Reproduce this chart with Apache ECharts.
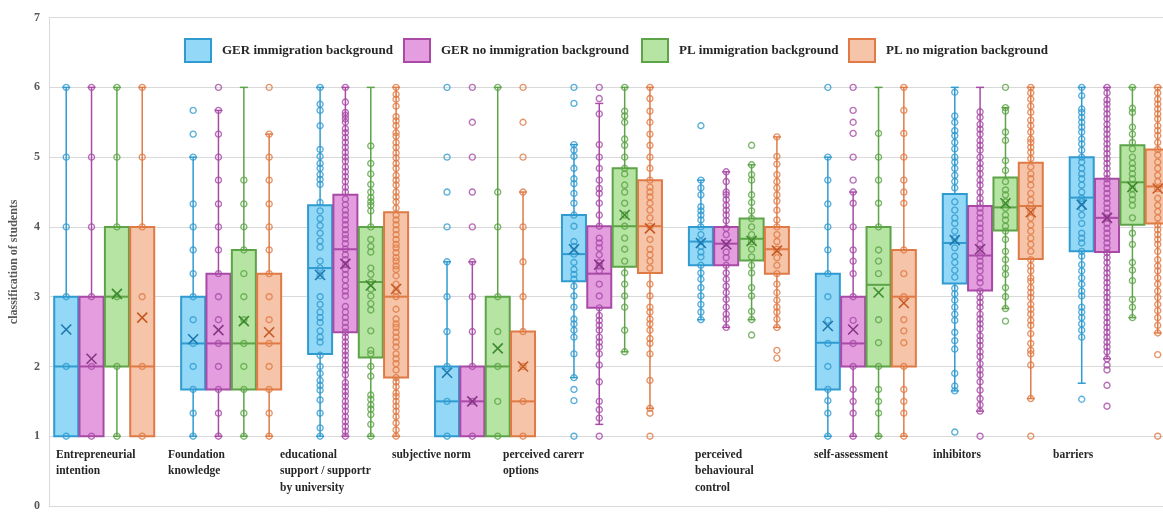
<!DOCTYPE html>
<html>
<head>
<meta charset="utf-8">
<script src="https://cdn.jsdelivr.net/npm/echarts@6/dist/echarts.min.js"></script>
<style>
  html, body { margin: 0; padding: 0; background: #fff; }
  #chart { width: 1163px; height: 512px; }
</style>
</head>
<body>
<div id="chart"></div>
<script>
// Box plots per construct, 4 student groups (GER/PL x migration background)

const CATEGORIES = [
  "Entrepreneurial\nintention", "Foundation\nknowledge", "educational\nsupport / supportr\nby university",
  "subjective norm", "perceived carerr\noptions", "perceived\nbehavioural\ncontrol",
  "self-assessment", "inhibitors", "barriers"
];
const SERIES_NAMES = [
  "GER immigration background", "GER no immigration background",
  "PL immigration background", "PL no migration background"
];
const Y_TICKS = [0, 1, 2, 3, 4, 5, 6, 7];

// [lower whisker, q1, median, q3, upper whisker, mean] per category
const GER_IMM_STATS = [
  [1, 1, 2, 3, 6, 2.53], [1, 1.67, 2.33, 3, 5, 2.39], [1, 2.18, 3.41, 4.31, 6, 3.31],
  [1, 1, 1.5, 2, 3.5, 1.91], [1.84, 3.22, 3.61, 4.17, 5.18, 3.68], [2.67, 3.45, 3.79, 4.0, 4.67, 3.77],
  [1, 1.67, 2.34, 3.33, 5, 2.58], [1.65, 3.19, 3.77, 4.47, 6, 3.81], [1.76, 3.65, 4.42, 5.0, 6, 4.32]
];
const GER_NOIMM_STATS = [
  [1, 1, 2, 3, 6, 2.11], [1, 1.67, 2.33, 3.33, 5.67, 2.52], [1, 2.49, 3.68, 4.46, 6, 3.47],
  [1, 1, 1.5, 2, 3.5, 1.5], [1.17, 2.84, 3.33, 4.01, 5.77, 3.46], [2.56, 3.45, 3.76, 4.0, 4.79, 3.75],
  [1, 2, 2.33, 3, 4.5, 2.53], [1.36, 3.09, 3.59, 4.30, 6, 3.68], [2.11, 3.64, 4.13, 4.69, 6, 4.13]
];
const PL_IMM_STATS = [
  [1, 2, 3, 4, 6, 3.04], [1, 1.67, 2.33, 3.67, 6, 2.65], [1, 2.13, 3.21, 4.0, 6, 3.16],
  [1, 1, 2, 3, 6, 2.26], [2.21, 3.43, 4.01, 4.84, 6, 4.17], [2.67, 3.52, 3.83, 4.12, 4.89, 3.80],
  [1, 2, 3.17, 4, 6, 3.06], [2.83, 3.95, 4.28, 4.71, 5.71, 4.34], [2.70, 4.03, 4.64, 5.17, 6, 4.57]
];
const PL_NOMIG_STATS = [
  [1, 1, 2, 4, 6, 2.70], [1, 1.67, 2.33, 3.33, 5.33, 2.49], [1, 1.84, 3.0, 4.21, 6, 3.11],
  [1, 1, 1.5, 2.5, 4.5, 2.0], [1.40, 3.34, 4.01, 4.67, 6, 3.98], [2.56, 3.33, 3.68, 4.0, 5.29, 3.66],
  [1, 2, 3.0, 3.67, 6, 2.91], [1.54, 3.54, 4.30, 4.92, 6, 4.21], [2.48, 4.05, 4.58, 5.11, 6, 4.55]
];

// single answers (distinct values) per category
const GER_IMM_POINTS = [
  [1, 2, 3, 4, 5, 6],
  [1, 1.33, 1.67, 2, 2.33, 2.67, 3, 3.33, 3.67, 4, 4.33, 5, 5.33, 5.67],
  [1, 1.12, 1.33, 1.52, 1.66, 1.73, 1.8, 1.9, 2, 2.16, 2.35, 2.42, 2.51, 2.63, 2.7, 2.78, 2.89, 3, 3.3, 3.41,
   3.51, 3.71, 3.8, 3.91, 4.02, 4.12, 4.23, 4.35, 4.61, 4.68, 4.75, 4.84, 4.91, 5.01, 5.11, 5.45, 5.67, 5.76, 6],
  [1, 1.5, 2, 2.5, 3, 3.5, 4, 4.5, 5, 6],
  [1, 1.51, 1.67, 1.84, 2.18, 2.42, 2.52, 2.61, 2.68, 2.85, 3.01, 3.15, 3.25, 3.32, 3.39, 3.49, 3.61, 3.72,
   3.79, 4.01, 4.17, 4.34, 4.48, 4.62, 4.69, 4.84, 5.01, 5.1, 5.18, 5.77, 6],
  [2.67, 2.78, 2.89, 3.01, 3.13, 3.25, 3.34, 3.45, 3.57, 3.64, 3.72, 3.79, 3.89, 4, 4.1, 4.17, 4.23, 4.29,
   4.46, 4.56, 4.67, 5.45],
  [1, 1.33, 1.51, 1.67, 2, 2.33, 2.66, 3, 3.33, 3.67, 4, 4.33, 4.67, 5, 6],
  [1.06, 1.65, 1.72, 1.9, 2.25, 2.37, 2.49, 2.66, 2.75, 2.85, 2.95, 3.04, 3.12, 3.28, 3.38, 3.49, 3.58, 3.7,
   3.84, 3.94, 4.05, 4.13, 4.24, 4.36, 4.56, 4.65, 4.74, 4.84, 4.93, 5, 5.12, 5.21, 5.31, 5.38, 5.5, 5.59, 5.93],
  [1.53, 2.42, 2.52, 2.61, 2.7, 2.78, 2.85, 3.01, 3.08, 3.18, 3.27, 3.37, 3.46, 3.58, 3.65, 3.77, 3.84, 3.91,
   4.05, 4.17, 4.27, 4.36, 4.41, 4.5, 4.6, 4.69, 4.76, 4.84, 4.93, 5, 5.1, 5.19, 5.26, 5.36, 5.43, 5.5, 5.57,
   5.64, 5.69, 5.88, 6]
];
const GER_NOIMM_POINTS = [
  [1, 2, 3, 4, 5, 6],
  [1, 1.33, 1.67, 2, 2.33, 2.67, 3, 3.33, 3.67, 4, 4.33, 4.67, 5, 5.33, 5.67, 6],
  [1, 1.07, 1.14, 1.21, 1.28, 1.36, 1.43, 1.5, 1.58, 1.64, 1.71, 1.77, 1.88, 1.95, 2.02, 2.09, 2.16, 2.22,
   2.29, 2.35, 2.42, 2.49, 2.56, 2.63, 2.7, 2.78, 2.86, 3.01, 3.08, 3.15, 3.24, 3.32, 3.39, 3.46, 3.53, 3.6,
   3.68, 3.76, 3.83, 3.89, 3.96, 4.03, 4.1, 4.17, 4.24, 4.32, 4.4, 4.5, 4.57, 4.65, 4.72, 4.79, 4.86, 4.94,
   5, 5.07, 5.14, 5.21, 5.28, 5.35, 5.41, 5.5, 5.55, 5.6, 5.64, 5.79, 6],
  [1, 1.5, 2, 2.5, 3, 3.5, 4, 4.5, 5, 5.5, 6],
  [1, 1.26, 1.38, 1.5, 1.78, 2.02, 2.18, 2.28, 2.35, 2.42, 2.52, 2.59, 2.66, 2.73, 2.84, 3.01, 3.18, 3.37,
   3.44, 3.49, 3.6, 3.7, 3.77, 3.84, 4.01, 4.17, 4.34, 4.48, 4.55, 4.67, 4.84, 5, 5.18, 5.62, 5.84, 6],
  [2.56, 2.68, 2.75, 2.85, 2.96, 3.06, 3.15, 3.25, 3.34, 3.45, 3.56, 3.64, 3.77, 3.89, 3.98, 4.09, 4.17,
   4.24, 4.31, 4.39, 4.46, 4.5, 4.65, 4.79],
  [1, 1.33, 1.5, 1.67, 2, 2.33, 2.66, 3, 3.33, 3.51, 3.67, 4, 4.34, 4.5, 4.67, 5, 5.34, 5.5, 5.67, 6],
  [1, 1.36, 1.45, 1.54, 1.66, 1.78, 1.88, 1.95, 2.04, 2.14, 2.21, 2.3, 2.37, 2.44, 2.54, 2.61, 2.68, 2.75,
   2.85, 2.92, 2.99, 3.08, 3.2, 3.27, 3.37, 3.44, 3.51, 3.58, 3.68, 3.75, 3.84, 3.91, 3.98, 4.05, 4.13, 4.2,
   4.27, 4.34, 4.41, 4.5, 4.6, 4.67, 4.76, 4.84, 4.91, 5, 5.1, 5.17, 5.24, 5.33, 5.4, 5.47, 5.57, 5.65],
  [1.43, 1.73, 1.95, 2.02, 2.11, 2.21, 2.28, 2.35, 2.42, 2.49, 2.56, 2.63, 2.7, 2.78, 2.85, 2.92, 2.99, 3.06,
   3.13, 3.2, 3.27, 3.34, 3.41, 3.49, 3.56, 3.63, 3.7, 3.77, 3.84, 3.91, 3.98, 4.05, 4.13, 4.2, 4.27, 4.34,
   4.41, 4.48, 4.55, 4.62, 4.69, 4.76, 4.84, 4.91, 4.98, 5.05, 5.12, 5.19, 5.26, 5.33, 5.4, 5.47, 5.55, 5.62,
   5.69, 5.76, 5.82, 5.92, 6]
];
const PL_IMM_POINTS = [
  [1, 2, 3, 4, 5, 6],
  [1, 1.33, 1.67, 2, 2.33, 2.67, 3, 3.33, 3.67, 4, 4.33, 4.67],
  [1, 1.17, 1.31, 1.39, 1.45, 1.53, 1.59, 1.86, 2, 2.18, 2.23, 2.51, 2.81, 2.9, 3.01, 3.11, 3.21, 3.32, 3.41,
   3.64, 3.72, 3.82, 4, 4.23, 4.31, 4.36, 4.42, 4.5, 4.61, 4.76, 4.91, 5.16],
  [1, 1.5, 2, 2.5, 3, 4, 4.5, 6],
  [2.21, 2.52, 2.85, 3.01, 3.18, 3.34, 3.51, 3.68, 3.84, 4.01, 4.17, 4.34, 4.5, 4.6, 4.76, 4.84, 5, 5.17,
   5.26, 5.5, 5.59, 5.66, 6],
  [2.45, 2.67, 2.79, 3.01, 3.13, 3.34, 3.45, 3.57, 3.68, 3.79, 3.89, 4, 4.12, 4.23, 4.35, 4.46, 4.67, 4.75,
   4.89, 5.17],
  [1, 1.33, 1.5, 1.67, 2, 2.34, 2.67, 3.33, 3.51, 3.67, 4, 4.34, 4.67, 5, 5.34],
  [2.65, 2.83, 3, 3.13, 3.32, 3.41, 3.53, 3.65, 3.82, 3.94, 4.01, 4.1, 4.17, 4.27, 4.36, 4.46, 4.53, 4.65,
   4.81, 4.95, 5.24, 5.36, 5.66, 5.71, 6],
  [2.7, 2.85, 2.96, 3.23, 3.38, 3.49, 3.75, 3.91, 4.13, 4.31, 4.39, 4.46, 4.55, 4.69, 4.76, 4.84, 4.91, 5,
   5.12, 5.21, 5.33, 5.43, 5.64, 5.7, 6]
];
const PL_NOMIG_POINTS = [
  [1, 2, 3, 4, 5, 6],
  [1, 1.33, 1.67, 2, 2.33, 2.67, 3, 3.33, 3.67, 4, 4.33, 4.67, 5, 5.33, 6],
  [1, 1.09, 1.19, 1.28, 1.36, 1.43, 1.5, 1.57, 1.62, 1.71, 1.78, 1.84, 1.95, 2.04, 2.11, 2.18, 2.28, 2.35,
   2.42, 2.49, 2.56, 2.61, 2.68, 2.82, 3, 3.08, 3.18, 3.3, 3.39, 3.44, 3.51, 3.56, 3.63, 3.7, 3.75, 3.82,
   3.89, 3.96, 4.03, 4.1, 4.17, 4.27, 4.36, 4.43, 4.5, 4.6, 4.67, 4.74, 4.84, 4.91, 4.99, 5.06, 5.14, 5.21,
   5.3, 5.35, 5.45, 5.52, 5.58, 5.73, 5.83, 5.9, 6],
  [1, 1.5, 2, 2.5, 3, 3.5, 4, 4.5, 5, 5.5, 6],
  [1, 1.33, 1.4, 1.8, 2.18, 2.33, 2.4, 2.52, 2.61, 2.68, 2.78, 2.85, 3.01, 3.18, 3.41, 3.51, 3.6, 3.68, 3.82,
   4.01, 4.13, 4.24, 4.34, 4.43, 4.5, 4.57, 4.67, 4.84, 5, 5.17, 5.33, 5.5, 5.66, 5.84, 6],
  [2.12, 2.23, 2.56, 2.68, 2.78, 2.85, 2.95, 3.06, 3.18, 3.33, 3.45, 3.56, 3.68, 3.79, 3.89, 4, 4.1, 4.24,
   4.37, 4.46, 4.56, 4.65, 4.75, 4.9, 5.01, 5.29],
  [1, 1.33, 1.5, 1.67, 2, 2.34, 2.51, 2.67, 3, 3.33, 3.67, 4.34, 4.5, 4.67, 5, 5.34, 5.67, 6],
  [1, 1.54, 2.02, 2.18, 2.23, 2.33, 2.47, 2.59, 2.66, 2.75, 2.82, 2.89, 2.99, 3.06, 3.13, 3.22, 3.27, 3.37,
   3.44, 3.53, 3.65, 3.75, 3.84, 3.94, 4.03, 4.13, 4.22, 4.31, 4.39, 4.48, 4.6, 4.69, 4.76, 4.86, 4.98, 5.07,
   5.14, 5.21, 5.26, 5.36, 5.45, 5.53, 5.64, 5.73, 5.83, 5.92, 6],
  [1, 2.17, 2.48, 2.59, 2.7, 2.8, 2.89, 2.99, 3.08, 3.18, 3.27, 3.37, 3.44, 3.53, 3.65, 3.75, 3.82, 3.89,
   3.96, 4.03, 4.13, 4.22, 4.31, 4.41, 4.55, 4.65, 4.74, 4.84, 4.93, 5.03, 5.11, 5.21, 5.31, 5.38, 5.45,
   5.55, 5.62, 5.69, 5.76, 5.83, 5.92, 6]
];

const STATS = [GER_IMM_STATS, GER_NOIMM_STATS, PL_IMM_STATS, PL_NOMIG_STATS];
const POINTS = [GER_IMM_POINTS, GER_NOIMM_POINTS, PL_IMM_POINTS, PL_NOMIG_POINTS];

// ── styles / layout ───────────────────────────────────────────────────
const STYLES = [
  { fill: "#93d8f6", stroke: "#2f9bd1", mean: "#1f78ad", dx: -38 },
  { fill: "#e49ee0", stroke: "#a84aa6", mean: "#873685", dx: -12.7 },
  { fill: "#b6e4a2", stroke: "#5ca447", mean: "#3e8a2e", dx: 12.7 },
  { fill: "#f6c4a8", stroke: "#e07a45", mean: "#c55a26", dx: 38 },
];
const LEGEND_LEFT = [179, 398, 636, 843];
const LABEL_LEFT = [56, 168, 280, 392, 503, 695, 814, 933, 1053];
const BOX_W = 24;
const FONT = '"Liberation Serif", "DejaVu Serif", serif';

const chart = echarts.init(document.getElementById("chart"));

function boxItem(g) {
  const st = STYLES[g];
  return function (params, api) {
    const i = api.value(0);
    const y = v => api.coord([i, v])[1];
    const cx = api.coord([i, 0])[0] + st.dx;
    const lo = y(api.value(1)), q1 = y(api.value(2)), med = y(api.value(3));
    const q3 = y(api.value(4)), hi = y(api.value(5));
    const hw = BOX_W / 2, cap = 4;
    const ln = (x1, y1, x2, y2, w) => ({
      type: "line", shape: { x1, y1, x2, y2 }, style: { stroke: st.stroke, lineWidth: w }
    });
    return {
      type: "group",
      children: [
        ln(cx, lo, cx, q1, 1.5),
        ln(cx, q3, cx, hi, 1.5),
        ln(cx - cap, lo, cx + cap, lo, 1.5),
        ln(cx - cap, hi, cx + cap, hi, 1.5),
        {
          type: "rect", shape: { x: cx - hw, y: q3, width: BOX_W, height: q1 - q3 },
          style: { fill: st.fill, stroke: st.stroke, lineWidth: 2 }
        },
        ln(cx - hw, med, cx + hw, med, 2),
      ]
    };
  };
}

function meanItem(g) {
  const st = STYLES[g];
  return function (params, api) {
    const p = api.coord([api.value(0), api.value(1)]);
    const cx = p[0] + st.dx, cy = p[1], m = 5;
    const s = { stroke: st.mean, lineWidth: 1.6 };
    return {
      type: "group",
      children: [
        { type: "line", shape: { x1: cx - m, y1: cy - m, x2: cx + m, y2: cy + m }, style: s },
        { type: "line", shape: { x1: cx - m, y1: cy + m, x2: cx + m, y2: cy - m }, style: s },
      ]
    };
  };
}

const series = [];
SERIES_NAMES.forEach((name, g) => {
  const st = STYLES[g];
  series.push({
    name, type: "custom", renderItem: boxItem(g), z: 2,
    encode: { x: 0, y: [1, 2, 3, 4, 5] },
    data: STATS[g].map((s, i) => [i, s[0], s[1], s[2], s[3], s[4]]),
    silent: true,
  });
  const pts = [];
  POINTS[g].forEach((arr, i) => arr.forEach(v => pts.push([i, v])));
  series.push({
    name, type: "scatter", z: 3, symbol: "circle", symbolSize: 6,
    symbolOffset: [st.dx, 0],
    itemStyle: { color: "rgba(255,255,255,0)", borderColor: st.stroke, borderWidth: 1.4 },
    data: pts, silent: true,
  });
  series.push({
    name, type: "custom", renderItem: meanItem(g), z: 4,
    encode: { x: 0, y: 1 },
    data: STATS[g].map((s, i) => [i, s[5]]),
    silent: true,
  });
});

const legends = SERIES_NAMES.map((name, g) => ({
  left: LEGEND_LEFT[g], top: 33,
  itemWidth: 26, itemHeight: 23, selectedMode: false,
  textStyle: { color: "#262626", fontFamily: FONT, fontWeight: "bold", fontSize: 13, padding: [0, 0, 0, 6] },
  data: [{
    name, icon: "rect",
    itemStyle: { color: STYLES[g].fill, borderColor: STYLES[g].stroke, borderWidth: 2 }
  }]
}));

chart.setOption({
  backgroundColor: "#fff",
  animation: false,
  legend: legends,
  grid: { left: 44, right: 0, top: 17.6, bottom: 1.6 },
  xAxis: {
    type: "value", min: -0.435, max: 8.341,
    axisLine: { show: false }, axisTick: { show: false },
    axisLabel: { show: false }, splitLine: { show: false },
  },
  yAxis: {
    type: "value", min: Y_TICKS[0], max: Y_TICKS[Y_TICKS.length - 1], interval: 1,
    name: "classification of students", nameLocation: "middle", nameGap: 29,
    nameTextStyle: { color: "#595959", fontFamily: FONT, fontWeight: "bold", fontSize: 12 },
    axisLine: { show: true, onZero: false, lineStyle: { color: "#d9d9d9", width: 1 } },
    axisTick: { show: false },
    axisLabel: { color: "#595959", fontFamily: FONT, fontWeight: "bold", fontSize: 12, margin: 9 },
    splitLine: { lineStyle: { color: "#d9d9d9", width: 1 } },
  },
  graphic: CATEGORIES.map((t, i) => ({
    type: "text", left: LABEL_LEFT[i], top: 447, silent: true,
    style: {
      text: t, fill: "#262626", lineHeight: 16.3,
      font: 'bold 11.5px "Liberation Serif", "DejaVu Serif", serif'
    }
  })),
  series,
});
</script>
</body>
</html>
